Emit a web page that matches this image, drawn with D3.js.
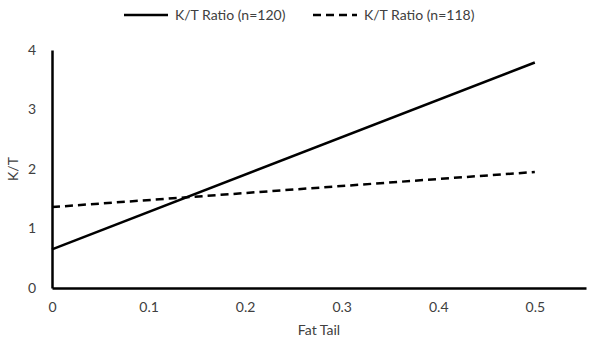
<!DOCTYPE html>
<html>
<head>
<meta charset="utf-8">
<script src="https://cdn.jsdelivr.net/npm/d3@7"></script>
<style>
  body { margin: 0; background: #fff; }
  text { font-family: Lato, "Open Sans", sans-serif; fill: #404040; }
</style>
</head>
<body>
<div id="chart"></div>
<script>
  // data
  const fatTail = [0, 0.5];
  const ratio120 = [0.65, 3.79];
  const ratio118 = [1.36, 1.95];
  const seriesNames = ["K/T Ratio (n=120)", "K/T Ratio (n=118)"];
  const xTicks = [0, 0.1, 0.2, 0.3, 0.4, 0.5];
  const yTicks = [0, 1, 2, 3, 4];

  const width = 590, height = 344;
  const margin = { top: 50, right: 4, bottom: 56, left: 52 };

  const x = d3.scaleLinear().domain([0, 0.553]).range([margin.left, width - margin.right]);
  const y = d3.scaleLinear().domain([0, 4]).range([height - margin.bottom, margin.top]);

  const svg = d3.select("#chart").append("svg")
    .attr("width", width)
    .attr("height", height);

  // axes, no tick marks
  const xAxis = svg.append("g")
    .attr("transform", `translate(0,${y(0)})`)
    .call(d3.axisBottom(x).tickValues(xTicks).tickSize(0).tickPadding(14).tickFormat(d3.format("")));
  const yAxis = svg.append("g")
    .attr("transform", `translate(${x(0)},0)`)
    .call(d3.axisLeft(y).tickValues(yTicks).tickSize(0).tickPadding(16).tickFormat(d3.format("d")));
  [xAxis, yAxis].forEach(g => {
    g.select(".domain").attr("stroke", "#000").attr("stroke-width", 2.5);
    g.selectAll("text").attr("font-size", 14).style("fill", "#404040");
  });

  const series = [
    { name: seriesNames[0], values: ratio120, dash: null },
    { name: seriesNames[1], values: ratio118, dash: "8,5" }
  ];

  const line = d3.line().x((d, i) => x(fatTail[i])).y(d => y(d));

  svg.selectAll(".series")
    .data(series)
    .join("path")
    .attr("class", "series")
    .attr("d", d => line(d.values))
    .attr("fill", "none")
    .attr("stroke", "#000")
    .attr("stroke-width", 2.5)
    .attr("stroke-dasharray", d => d.dash);

  // axis titles
  svg.append("text")
    .attr("x", (x(0) + x(0.553)) / 2)
    .attr("y", 335)
    .attr("text-anchor", "middle")
    .attr("font-size", 14)
    .text("Fat Tail");
  svg.append("text")
    .attr("transform", `translate(18,${y(2)}) rotate(-90)`)
    .attr("text-anchor", "middle")
    .attr("font-size", 14)
    .text("K/T");

  // legend
  const legend = svg.append("g").selectAll("g")
    .data(series)
    .join("g")
    .attr("transform", (d, i) => `translate(${i === 0 ? 124 : 313},15)`);
  legend.append("line")
    .attr("x1", 0).attr("x2", 44)
    .attr("stroke", "#000")
    .attr("stroke-width", 2.5)
    .attr("stroke-dasharray", d => d.dash);
  legend.append("text")
    .attr("x", 51)
    .attr("dy", "0.35em")
    .attr("font-size", 14)
    .text(d => d.name);
</script>
</body>
</html>
